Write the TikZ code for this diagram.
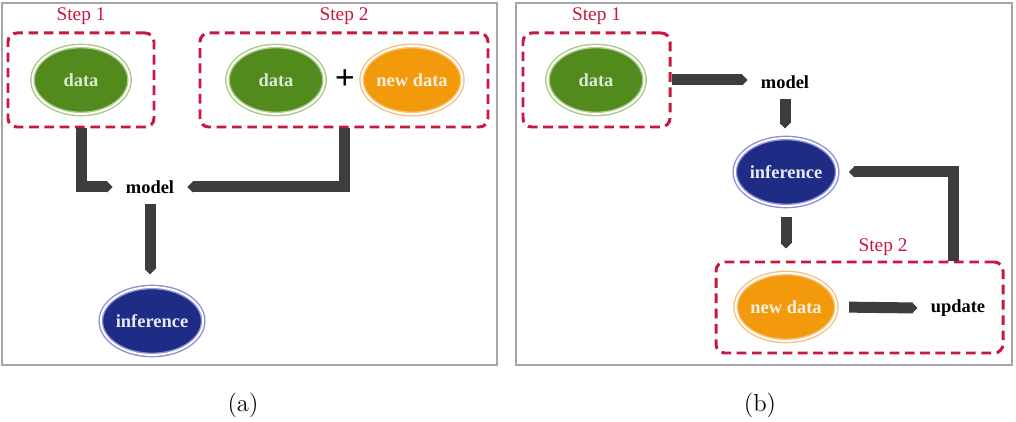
\documentclass[tikz,border=0pt]{standalone}
\usepackage{fontspec}
\usepackage{tikz}
\usetikzlibrary{shapes,arrows.meta,positioning}
\newfontfamily\figfont{Liberation Serif}
\definecolor{stepred}{HTML}{C9183F}
\definecolor{datagreen}{HTML}{538A1E}
\definecolor{datarim}{HTML}{A9C98A}
\definecolor{neworange}{HTML}{F39A0C}
\definecolor{newrim}{HTML}{F8C27A}
\definecolor{infnavy}{HTML}{1F2C86}
\definecolor{infrim}{HTML}{8E8FD8}
\definecolor{flowgrey}{HTML}{3D3D3D}

\begin{document}
\begin{tikzpicture}
\tikzstyle{stepbox} = [rectangle, draw=stepred, line width=1.7pt, dash pattern=on 5.5pt off 3.2pt, rounded corners=5pt]
\tikzstyle{steplabel} = [text=stepred, font=\figfont\fontsize{11}{13}\selectfont]
\tikzstyle{blob} = [ellipse, minimum width=1.94cm, minimum height=1.36cm, inner sep=0pt, line width=0.8pt, double=white, double distance=1.1pt, font=\figfont\fontsize{10.5}{12}\selectfont\bfseries]
\tikzstyle{datanode} = [blob, draw=datarim, fill=datagreen, text={datarim!40!white}]
\tikzstyle{newnode} = [blob, draw=newrim, fill=neworange, text={newrim!25!white}]
\tikzstyle{infnode} = [blob, draw=infrim, fill=infnavy, text={infrim!20!white}]
\tikzstyle{word} = [inner xsep=0.26cm, inner ysep=0.2cm, font=\figfont\fontsize{10.5}{12}\selectfont\bfseries]
\tikzstyle{flow} = [line width=0.22cm, draw=flowgrey, line join=miter, -{Triangle[width=0pt 1, length=0pt 0.5]}]
\tikzstyle{frame} = [draw=gray!70, line width=0.6pt]

\useasboundingbox (0,0) rectangle (20.32,-8.44);

% (a)
\draw[frame] (0.04,-0.06) rectangle (9.94,-7.30);
\node[stepbox, minimum width=2.92cm, minimum height=1.88cm] (boxA1) at (1.62,-1.60) {};
\node[steplabel, above=0.02cm of boxA1] (stepA1) {Step 1};
\node[stepbox, minimum width=5.76cm, minimum height=1.88cm] (boxA2) at (6.88,-1.60) {};
\node[steplabel, above=0.02cm of boxA2] (stepA2) {Step 2};
\node[datanode] (dataA1) at (1.62,-1.60) {data};
\node[datanode] (dataA2) at (5.52,-1.60) {data};
\node[font=\figfont\fontsize{20}{20}\selectfont\bfseries] (plusA) at (6.90,-1.60) {+};
\node[newnode] (newA) at (8.24,-1.60) {new data};
\node[word] (modelA) at (3.00,-3.74) {model};
\node[infnode] (infA) at (3.04,-6.42) {inference};
\node (capA) at (4.86,-8.10) {\fontsize{14}{16}\selectfont (a)};

\draw[flow] (boxA1.south) |- (modelA.west);
\draw[flow] (boxA2.south) |- (modelA.east);
\draw[flow, shorten >=0.24cm] (modelA.south) -- (modelA.south |- infA.north);

% (b)
\draw[frame] (10.32,-0.06) rectangle (20.24,-7.30);
\node[stepbox, minimum width=2.94cm, minimum height=1.88cm] (boxB1) at (11.93,-1.60) {};
\node[steplabel, above=0.02cm of boxB1] (stepB1) {Step 1};
\node[datanode] (dataB1) at (11.92,-1.60) {data};
\node[word] (modelB) at (15.70,-1.64) {model};
\node[infnode] (infB) at (15.72,-3.44) {inference};
\node[stepbox, minimum width=5.74cm, minimum height=1.82cm] (boxB2) at (17.19,-6.15) {};
\node[steplabel] (stepB2) at (17.66,-4.94) {Step 2};
\node[newnode] (newB) at (15.72,-6.14) {new data};
\node[word] (updateB) at (19.16,-6.16) {update};
\node (capB) at (15.20,-8.10) {\fontsize{14}{16}\selectfont (b)};

\draw[flow] (boxB1.east) -- (modelB.west |- boxB1.east);
\draw[flow, shorten >=0.18cm] (modelB.south) -- (modelB.south |- infB.north);
\draw[flow, shorten <=0.2cm, shorten >=0.24cm] (infB.south) -- (infB.south |- boxB2.north);
\draw[flow, shorten <=0.24cm] (newB.east) -- (updateB.west);
\draw[flow, shorten >=0.22cm] ([xshift=-1.02cm]boxB2.north east) |- (infB.east);
\end{tikzpicture}
\end{document}
